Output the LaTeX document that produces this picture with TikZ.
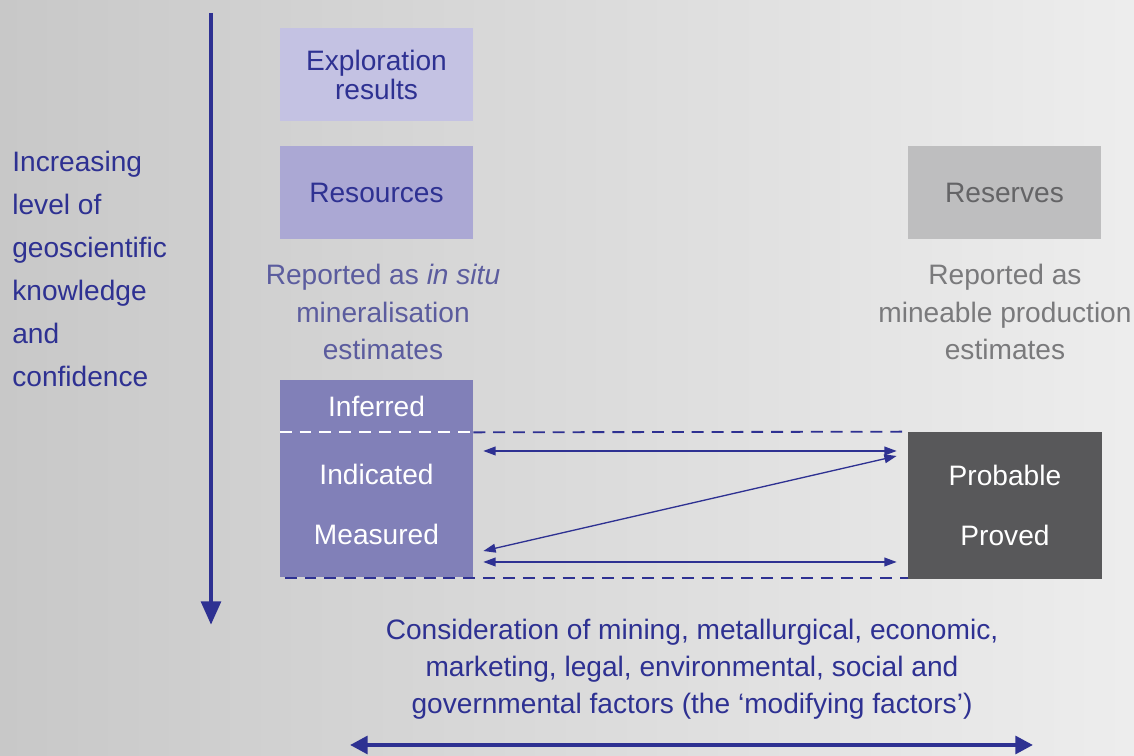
\documentclass[tikz,border=0pt]{standalone}
\usepackage{fontspec}
\setmainfont{Liberation Sans}
\usetikzlibrary{arrows.meta}

\definecolor{jblue}{HTML}{2E3192}
\definecolor{explfill}{HTML}{C4C2E3}
\definecolor{resfill}{HTML}{ABA8D4}
\definecolor{rsvfill}{HTML}{BEBEBF}
\definecolor{rsvtext}{HTML}{646466}
\definecolor{inffill}{HTML}{8180B8}
\definecolor{probfill}{HTML}{58585A}
\definecolor{insitutext}{HTML}{5B5C9E}
\definecolor{mintext}{HTML}{7A7A7C}

\newcommand{\boxfont}{\fontsize{16}{16.5}\selectfont}

\begin{document}
\begin{tikzpicture}[x=0.02cm, y=-0.02cm]

\tikzstyle{box}=[minimum width=3.86cm, inner sep=0pt, align=center, font=\boxfont]
\tikzstyle{note}=[align=center, inner sep=0pt, font=\fontsize{16}{21.3}\selectfont]
\tikzstyle{biarrow}=[{Triangle[length=7pt,width=5pt]}-{Triangle[length=7pt,width=5pt]}, jblue, line width=0.75pt]
\tikzstyle{dashline}=[line width=1.05pt, dash pattern=on 6.8pt off 4.5pt]

% background
\shade[left color=black!21!white!98!gray, right color=black!7] (0,0) rectangle (1134,756);
\useasboundingbox (0,0) rectangle (1134,756);

\node (expl) [box, fill=explfill, minimum height=1.86cm, text=jblue] at (376.5,74.5) {Exploration\\results};
\node (res) [box, fill=resfill, minimum height=1.86cm, text=jblue] at (376.5,192.5) {Resources};
\node (rsv) [box, fill=rsvfill, minimum height=1.86cm, text=rsvtext] at (1004.5,192.5) {Reserves};

\node (insitu) [note, text=insitutext] at (383,312) {Reported as \textit{in situ}\\mineralisation\\estimates};
\node (mineable) [note, text=mintext] at (1005,312) {Reported as\\mineable production\\estimates};

\node (inf) [box, fill=inffill, minimum height=1.04cm, text=white] at (376.5,406) {Inferred};
\node (ind) [box, fill=inffill, minimum height=2.9cm, text=white] at (376.5,504.5) {Indicated\\[17.5pt]Measured};
\node (prob) [box, fill=probfill, minimum width=3.88cm, minimum height=2.94cm, text=white] at (1005,505.5) {Probable\\[17.5pt]Proved};

\node (knowledge) [anchor=north west, align=left, inner sep=0pt, text=jblue,
  font=\fontsize{16}{24.5}\selectfont] at (12,151)
  {Increasing\\level of\\geoscientific\\knowledge\\and\\confidence};

\node (modifying) [note, text=jblue, font=\fontsize{16}{21}\selectfont] at (692,669)
  {Consideration of mining, metallurgical, economic,\\marketing, legal, environmental, social and\\governmental factors (the `modifying factors')};

\coordinate (kstart) at (211,13);
\coordinate (kend) at (211,625);
\coordinate (mleft) at (350,745);
\coordinate (mright) at (1033,745);

\draw [jblue, line width=2.8pt, -{Triangle[length=13.5pt,width=11pt]}] (kstart) -- (kend);
\draw [jblue, line width=2.3pt, {Triangle[length=10pt,width=10pt]}-{Triangle[length=10pt,width=10pt]}] (mleft) -- (mright);

\draw [dashline, white] (inf.south west) -- (inf.south east);
\draw [dashline, jblue] (inf.south east) -- (prob.north west);
\draw [dashline, jblue] ([shift={(5,1)}]ind.south west) -- ([shift={(0,-1)}]prob.south west);

\draw [biarrow] ([shift={(10,-53.5)}]ind.east) -- ([shift={(-11,-54.5)}]prob.west);
\draw [biarrow] ([shift={(10,57.5)}]ind.east) -- ([shift={(-11,56.5)}]prob.west);
\draw [biarrow] ([shift={(10,46.5)}]ind.east) -- ([shift={(-11,-49.5)}]prob.west);

\end{tikzpicture}
\end{document}
